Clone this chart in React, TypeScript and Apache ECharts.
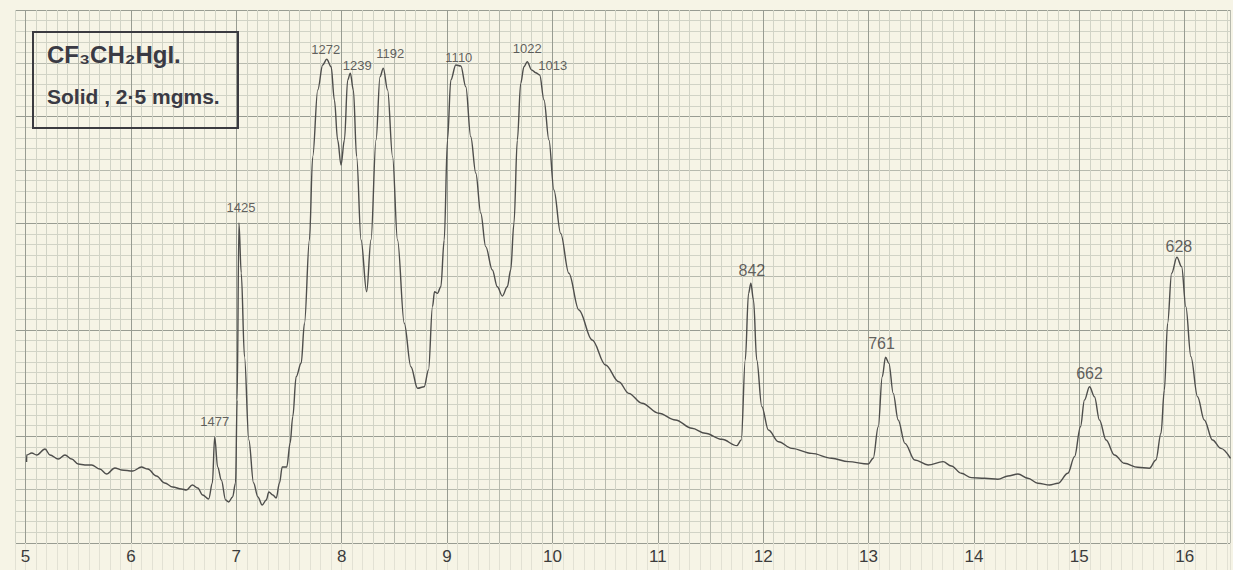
import { useEffect, useRef } from 'react';
import * as echarts from 'echarts';

// Wavelength (microns) and relative absorption (graph-paper squares)
const wavelength = [
  5.010, 5.011, 5.059, 5.106, 5.185, 5.232, 5.311, 5.374, 5.438, 5.500,
  5.563, 5.627, 5.705, 5.769, 5.848, 5.911, 6.018, 6.100, 6.160, 6.242,
  6.321, 6.397, 6.479, 6.527, 6.583, 6.634, 6.681, 6.738, 6.773, 6.795,
  6.823, 6.858, 6.899, 6.927, 6.965, 6.993, 7.008, 7.025, 7.047, 7.078,
  7.119, 7.164, 7.205, 7.246, 7.284, 7.309, 7.347, 7.379, 7.410, 7.436,
  7.479, 7.511, 7.536, 7.568, 7.616, 7.647, 7.694, 7.725, 7.773, 7.820,
  7.858, 7.900, 7.931, 7.962, 7.994, 8.026, 8.057, 8.082, 8.111, 8.142,
  8.184, 8.237, 8.278, 8.326, 8.364, 8.395, 8.436, 8.483, 8.530, 8.594,
  8.657, 8.720, 8.783, 8.824, 8.862, 8.881, 8.909, 8.941, 8.973, 9.004,
  9.036, 9.083, 9.131, 9.178, 9.225, 9.273, 9.320, 9.367, 9.430, 9.477,
  9.525, 9.572, 9.604, 9.635, 9.667, 9.699, 9.730, 9.761, 9.803, 9.841,
  9.879, 9.920, 9.967, 10.014, 10.078, 10.156, 10.251, 10.377, 10.504, 10.630,
  10.724, 10.850, 11.009, 11.167, 11.324, 11.451, 11.608, 11.750, 11.792, 11.830,
  11.861, 11.883, 11.908, 11.939, 11.987, 12.050, 12.145, 12.271, 12.460, 12.650,
  12.808, 12.997, 13.044, 13.092, 13.130, 13.161, 13.193, 13.234, 13.281, 13.345,
  13.439, 13.565, 13.707, 13.786, 13.880, 13.975, 14.102, 14.228, 14.323, 14.418,
  14.512, 14.607, 14.718, 14.797, 14.891, 14.955, 15.011, 15.049, 15.097, 15.144,
  15.191, 15.254, 15.333, 15.428, 15.554, 15.665, 15.727, 15.775, 15.807, 15.838,
  15.876, 15.926, 15.971, 16.011, 16.059, 16.122, 16.186, 16.264, 16.343, 16.435,
];

const absorption = [
  7.60, 8.26, 8.44, 8.26, 8.82, 8.26, 7.88, 8.26, 7.88, 7.41,
  7.32, 7.32, 6.94, 6.47, 7.04, 6.85, 6.75, 7.13, 6.94, 6.29,
  5.63, 5.25, 5.07, 4.97, 5.44, 5.16, 4.50, 4.13, 5.63, 9.94,
  7.13, 5.91, 4.03, 3.85, 4.32, 5.63, 13.41, 30.02, 25.33, 17.45,
  9.66, 5.63, 4.32, 3.56, 4.03, 4.78, 4.50, 4.22, 5.63, 7.13,
  7.13, 9.38, 11.85, 15.60, 16.89, 20.61, 28.42, 36.24, 42.50, 44.84,
  45.38, 44.68, 41.56, 37.80, 35.46, 37.80, 43.43, 44.06, 42.50, 36.24,
  28.42, 23.57, 28.42, 37.80, 43.74, 44.53, 42.50, 36.24, 28.42, 20.61,
  16.54, 14.51, 14.66, 16.23, 22.17, 23.57, 23.42, 24.04, 28.42, 37.80,
  43.43, 44.84, 44.75, 42.80, 38.11, 34.68, 30.93, 27.80, 25.61, 24.04,
  23.17, 24.04, 25.61, 29.99, 37.80, 43.12, 44.68, 45.15, 44.37, 44.12,
  43.90, 41.56, 37.80, 33.11, 29.05, 25.30, 21.86, 19.04, 16.70, 15.13,
  14.04, 13.11, 12.17, 11.54, 10.76, 10.29, 9.73, 9.13, 9.66, 17.17,
  23.42, 24.36, 22.80, 17.17, 12.79, 10.60, 9.50, 8.88, 8.41, 7.95,
  7.63, 7.41, 7.95, 10.91, 15.60, 17.42, 16.86, 14.04, 11.54, 9.35,
  7.79, 7.32, 7.63, 7.22, 6.54, 6.13, 6.07, 5.98, 6.29, 6.47,
  6.07, 5.60, 5.44, 5.60, 6.54, 8.10, 10.91, 13.41, 14.66, 13.72,
  11.54, 9.66, 8.26, 7.48, 7.10, 7.01, 7.79, 10.29, 14.35, 20.61,
  25.30, 26.80, 25.92, 22.17, 17.48, 13.72, 11.54, 9.66, 8.88, 7.95,
];

// Peak annotations (wavenumber, cm-1)
const peakLabels = ['1477', '1425', '1272', '1239', '1192', '1110', '1022', '1013', '842', '761', '662', '628'];
const peakWavelength = [6.795, 7.025, 7.858, 8.082, 8.395, 9.131, 9.761, 9.879, 11.883, 13.161, 15.097, 15.926];
const peakAbsorption = [9.94, 30.02, 45.38, 44.06, 44.53, 44.75, 45.15, 43.90, 24.36, 17.42, 14.66, 26.80];

// Axis tick labels (microns)
const tickValues = [5, 6, 7, 8, 9, 10, 11, 12, 13, 14, 15, 16];
const tickLabels = ['5', '6', '7', '8', '9', '10', '11', '12', '13', '14', '15', '16'];

const sampleTitle = 'CF₃CH₂HgI.';
const sampleNote = 'Solid , 2·5 mgms.';

// label placement (style only)
const labelOffsets: Record<string, [number, number]> = {
  '1477': [0, -16], '1425': [2, -15], '1272': [-1, -10], '1239': [7, -8],
  '1192': [7, -15], '1110': [-2, -8], '1022': [0, -13], '1013': [13, -10],
  '842': [1, -13], '761': [-4, -14], '662': [0, -13], '628': [2, -11],
};
const bigLabels = new Set(['842', '761', '662', '628']);

const PAPER = '#f6f4e6';
const MINOR = '#d1d3c6';
const MEDIUM = '#b7baae';
const MAJOR = '#989c92';

export default function App() {
  const ref = useRef<HTMLDivElement>(null);

  useEffect(() => {
    document.body.style.margin = '0';
    const chart = echarts.init(ref.current!, null, { renderer: 'svg' });

    const spectrum = wavelength.map((w, i) => [w, absorption[i]]);
    const peaks = peakLabels.map((name, i) => {
      const off = labelOffsets[name] || [0, -12];
      return {
        name,
        value: [peakWavelength[i], peakAbsorption[i]],
        label: {
          offset: off,
          fontSize: bigLabels.has(name) ? 16 : 13,
        },
      };
    });

    const xColors = [MINOR, MAJOR, MINOR, MINOR, MINOR, MINOR, MEDIUM, MINOR, MINOR, MINOR];
    const yColors = [MAJOR, MINOR, MINOR, MINOR, MINOR, MEDIUM, MINOR, MINOR, MINOR, MINOR];

    chart.setOption({
      animation: false,
      backgroundColor: PAPER,
      grid: { left: 15, right: 0, top: 10, bottom: 27, containLabel: false },
      xAxis: {
        type: 'value',
        min: 4.9,
        max: 16.43,
        interval: 0.1,
        axisLine: { show: false },
        axisTick: { show: true, length: 27, lineStyle: { color: '#e2e1d4', width: 1 } },
        splitLine: { show: true, lineStyle: { color: xColors, width: 1 } },
        axisLabel: {
          show: true,
          interval: 0,
          margin: 5,
          fontSize: 17,
          color: '#3c3c3c',
          fontFamily: '"Liberation Sans", sans-serif',
          formatter: (v: number) => {
            const r = Math.round(v);
            if (Math.abs(v - r) > 1e-6) return '';
            const idx = tickValues.indexOf(r);
            return idx >= 0 ? tickLabels[idx] : '';
          },
        },
      },
      yAxis: {
        type: 'value',
        min: 0,
        max: 50,
        interval: 1,
        axisLine: { show: false },
        axisTick: { show: false },
        axisLabel: { show: false },
        splitLine: { show: true, lineStyle: { color: yColors, width: 1 } },
      },
      series: [
        {
          type: 'line',
          data: spectrum,
          showSymbol: false,
          symbol: 'none',
          smooth: 0.35,
          smoothMonotone: 'x',
          lineStyle: { color: '#4e4e4c', width: 1.4 },
          z: 3,
        },
        {
          type: 'scatter',
          data: peaks,
          symbolSize: 1,
          itemStyle: { color: 'rgba(0,0,0,0)' },
          label: {
            show: true,
            position: 'inside',
            formatter: (p: any) => p.name,
            color: '#3a3a3a',
            fontFamily: '"Liberation Sans", sans-serif',
          },
          z: 4,
        },
      ],
      graphic: [
        {
          type: 'rect',
          shape: { x: 33, y: 32, width: 205, height: 96 },
          style: { fill: 'none', stroke: '#3a3a40', lineWidth: 2 },
          z: 10,
        },
        {
          type: 'text',
          x: 47,
          y: 42,
          style: {
            text: sampleTitle,
            fill: '#3a3a44',
            font: 'bold 24px "Liberation Sans", sans-serif',
            verticalAlign: 'top',
          },
          z: 10,
        },
        {
          type: 'text',
          x: 47,
          y: 86,
          style: {
            text: sampleNote,
            fill: '#3a3a44',
            font: 'bold 21px "Liberation Sans", sans-serif',
            verticalAlign: 'top',
          },
          z: 10,
        },
      ],
    });

    return () => chart.dispose();
  }, []);

  return <div ref={ref} style={{ width: 1233, height: 570 }} />;
}
